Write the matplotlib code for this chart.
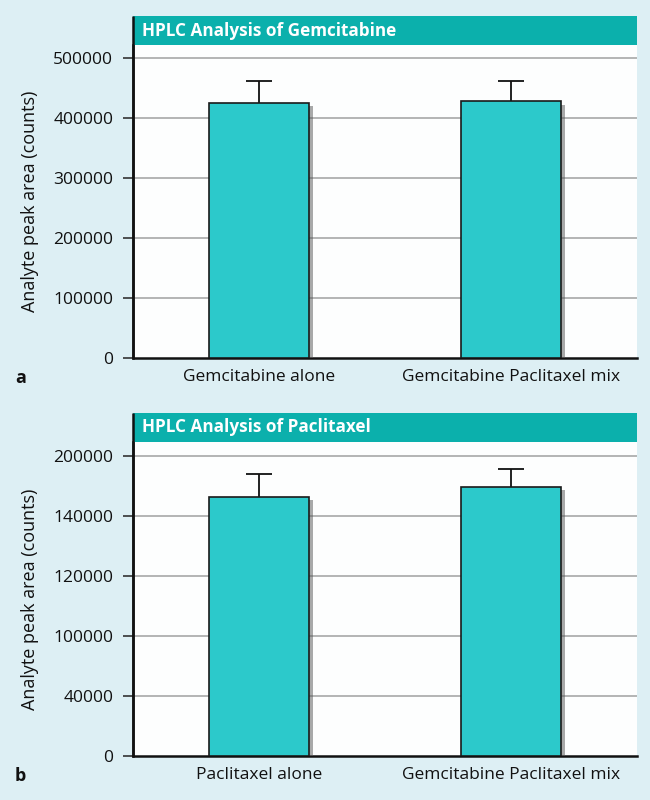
import matplotlib
matplotlib.use("Agg")
import matplotlib.pyplot as plt
from matplotlib.patches import Rectangle
from matplotlib import patheffects as pe

plt.rcParams['font.family'] = ['Open Sans', 'DejaVu Sans']

# Panel a
cats_a = ["Gemcitabine alone", "Gemcitabine Paclitaxel mix"]
vals_a = [425500, 428300]
errs_a = [36200, 33400]
ticks_a = [0, 100000, 200000, 300000, 400000, 500000]
ticklabels_a = ["0", "100000", "200000", "300000", "400000", "500000"]
title_a = "HPLC Analysis of Gemcitabine"
ymax_a = 521700

# Panel b
cats_b = ["Paclitaxel alone", "Gemcitabine Paclitaxel mix"]
vals_b = [172900, 179300]
errs_b = [15100, 12200]
ticks_b = [0, 40000, 80000, 120000, 160000, 200000]
ticklabels_b = ["0", "40000", "100000", "120000", "140000", "200000"]
title_b = "HPLC Analysis of Paclitaxel"
ymax_b = 209300

BG = "#DDEFF4"
TEAL = "#0BB0AC"
BAR = "#2CC9CB"

fig = plt.figure(figsize=(6.5, 8), dpi=100, facecolor=BG)

def panel(rect, cats, vals, errs, ticks, labels, title, ymax, letter):
    ax = fig.add_axes(rect)
    ax.set_facecolor("#FDFEFE")
    x = [0, 1]
    ax.set_xlim(-0.5, 1.5)
    ax.set_ylim(0, ymax)
    for t in ticks[1:]:
        ax.axhline(t, color="#B4B4B4", lw=1.4, zorder=1)
    bars = ax.bar(x, vals, width=0.40, color=BAR, edgecolor="#1a1a1a", lw=1.2, zorder=3)
    for b in bars:
        b.set_path_effects([pe.SimplePatchShadow(offset=(2.5, -2.5), shadow_rgbFace="#555555", alpha=0.5), pe.Normal()])
    tops = [v + e for v, e in zip(vals, errs)]
    ax.vlines(x, vals, tops, color="#111111", lw=1.3, zorder=2)
    cw = 0.053
    ax.hlines(tops, [xi - cw for xi in x], [xi + cw for xi in x], color="#111111", lw=1.3, zorder=2)
    ax.set_yticks(ticks)
    ax.set_yticklabels(labels, fontsize=12.5, color="#111111")
    ax.set_xticks(x)
    ax.set_xticklabels(cats, fontsize=12.5, color="#111111")
    ax.tick_params(axis='x', length=0, pad=8)
    ax.tick_params(axis='y', length=7.2, width=1.2, color="#333333", pad=7)
    for s in ["top", "right"]:
        ax.spines[s].set_visible(False)
    ax.spines["left"].set_linewidth(1.8)
    ax.spines["bottom"].set_linewidth(1.8)
    ax.spines["left"].set_color("#111111")
    ax.spines["bottom"].set_color("#111111")
    ax.set_ylabel("Analyte peak area (counts)", fontsize=13, color="#111111", labelpad=10)
    # title bar
    h = 29.0 / (rect[3] * 800)
    ax.add_patch(Rectangle((0, 1), 1, h, transform=ax.transAxes, facecolor=TEAL,
                           edgecolor="none", clip_on=False, zorder=4))
    ax.plot([0, 0], [0, 1 + h], transform=ax.transAxes, color="#111111", lw=1.8,
            clip_on=False, zorder=5, solid_capstyle="butt")
    ax.text(0.018, 1 + h / 2, title, transform=ax.transAxes, color="white",
            fontsize=12.3, fontweight="bold", va="center", ha="left", zorder=6)
    bottom_px = (1 - rect[1]) * 800
    fig.text(15 / 650, 1 - (bottom_px + 20) / 800, letter, fontsize=13,
             fontweight="bold", color="#111111", va="center", ha="left")
    return ax

panel([133 / 650, 0.5525, 504 / 650, 313 / 800], cats_a, vals_a, errs_a, ticks_a,
      ticklabels_a, title_a, ymax_a, "a")
panel([133 / 650, 0.055, 504 / 650, 314 / 800], cats_b, vals_b, errs_b, ticks_b,
      ticklabels_b, title_b, ymax_b, "b")

fig.savefig("out.png", dpi=100, facecolor=BG)
